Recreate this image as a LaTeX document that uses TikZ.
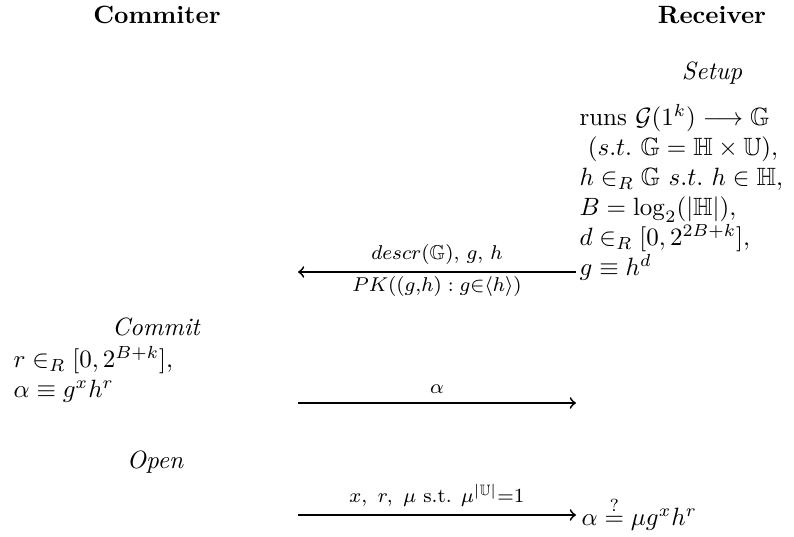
\documentclass[tikz,border=0pt]{standalone}
\usepackage{amsmath,amssymb}
\begin{document}
\begin{tikzpicture}[x=0.4pt,y=-0.4pt,
  hdr/.style={font=\bfseries,inner sep=0pt,anchor=base},
  phase/.style={font=\itshape,inner sep=0pt,anchor=base},
  blk/.style={align=left,inner sep=0pt,anchor=base west},
  lbl/.style={font=\footnotesize,inner sep=0pt},
  msg/.style={line width=0.75pt,-to}]
\useasboundingbox (0,0) rectangle (794,537);
\node[hdr] (com) at (157,24) {Commiter};
\node[hdr] (rec) at (712,24) {Receiver};
\node[phase] (setup) at (712,80) {Setup};
\node[blk,font=\fontsize{10}{12}\selectfont] (rblk) at (579,276) {runs $\mathcal{G}(1^k)\longrightarrow\mathbb{G}$\\
$\ (s.t.\ \mathbb{G}=\mathbb{H}\times\mathbb{U}),$\\
$h\in_R\mathbb{G}\ s.t.\ h\in\mathbb{H},$\\
$B=\log_2(|\mathbb{H}|),$\\
$d\in_R[0,2^{2B+k}],$\\
$g\equiv h^d$};
\coordinate (a1r) at (576,272);
\coordinate (a1l) at (298,272);
\draw[msg] (a1r) -- (a1l)
  node[lbl,midway,above=2.5pt] (l1a) {$descr(\mathbb{G}),\,g,\,h$}
  node[lbl,midway,below=1.5pt] (l1b) {$PK((g{,}h) : g{\in}\langle h\rangle)$};
\node[phase] (commit) at (156,336) {Commit};
\node[blk,font=\fontsize{10}{12}\selectfont] (lblk) at (13,398) {$r\in_R[0,2^{B+k}],$\\
$\alpha\equiv g^xh^r$};
\coordinate (a2l) at (298,403);
\coordinate (a2r) at (576,403);
\draw[msg] (a2l) -- (a2r) node[lbl,midway,above=3.5pt] (l2) {$\alpha$};
\node[phase] (open) at (155,469) {Open};
\coordinate (a3l) at (298,515);
\coordinate (a3r) at (576,515);
\draw[msg] (a3l) -- (a3r)
  node[lbl,midway,above=3pt] (l3) {$x,\ r,\ \mu$ s.t. $\mu^{|\mathbb{U}|}{=}1$};
\node[blk] (res) at (581,526) {$\alpha\stackrel{?}{=}\mu g^xh^r$};
\end{tikzpicture}
\end{document}
